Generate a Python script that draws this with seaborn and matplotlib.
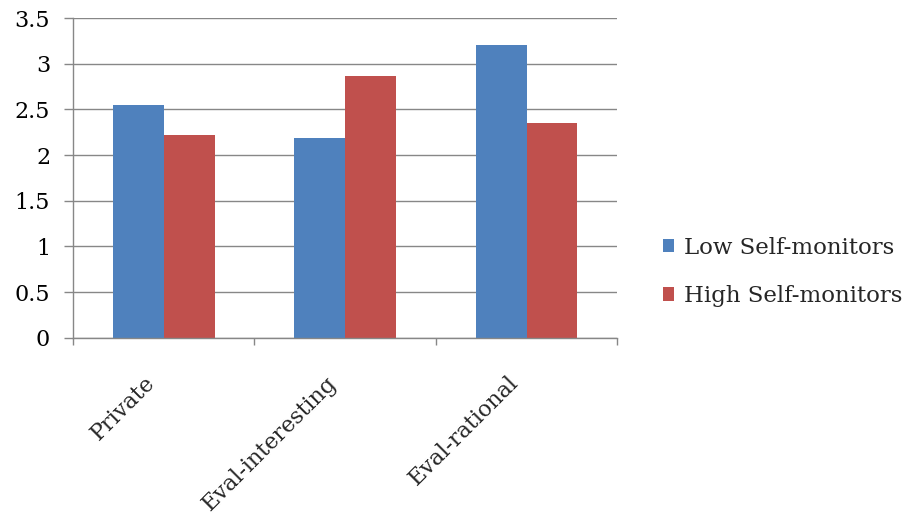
import matplotlib
matplotlib.use("Agg")
import matplotlib.pyplot as plt
import matplotlib.transforms as mtransforms
import seaborn as sns
import pandas as pd

categories = ["Private", "Eval-interesting", "Eval-rational"]
groups = ["Low Self-monitors", "High Self-monitors"]
low_values = [2.55, 2.19, 3.21]
high_values = [2.22, 2.86, 2.35]
y_ticks = [0, 0.5, 1, 1.5, 2, 2.5, 3, 3.5]
y_tick_labels = ["0", "0.5", "1", "1.5", "2", "2.5", "3", "3.5"]

df = pd.DataFrame({
    "category": categories * 2,
    "group": [groups[0]] * 3 + [groups[1]] * 3,
    "value": low_values + high_values,
})

sns.set_theme(style="white")
plt.rcParams["font.family"] = ["DejaVu Serif"]

fig = plt.figure(figsize=(9.21, 5.19), dpi=100)
ax = fig.add_axes([0.0793, 0.349, 0.591, 0.6163])

sns.barplot(data=df, x="category", y="value", hue="group", order=categories,
            hue_order=groups, palette=["#4F81BD", "#C0504D"], width=0.56,
            gap=0, saturation=1, ax=ax, errorbar=None, linewidth=0)

ax.set_ylim(0, 3.5)
ax.set_xlim(-0.5, 2.5)
ax.set_yticks(y_ticks)
ax.set_yticklabels(y_tick_labels, fontsize=16)
ax.yaxis.grid(True, color="#878787", linewidth=1)
ax.set_axisbelow(True)
ax.set_xlabel("")
ax.set_ylabel("")

for side in ["top", "right"]:
    ax.spines[side].set_visible(False)
for side in ["left", "bottom"]:
    ax.spines[side].set_color("#878787")
    ax.spines[side].set_linewidth(1)

ax.tick_params(axis="y", which="major", length=6.5, color="#878787", width=1,
               left=True, pad=10, labelcolor="black")
ax.set_xticks([0, 1, 2])
ax.set_xticklabels(categories, fontsize=16, rotation=45, ha="right",
                   va="center", rotation_mode="anchor")
ax.set_xticks([-0.5, 0.5, 1.5, 2.5], minor=True)
ax.tick_params(axis="x", which="major", length=0, pad=30)
ax.tick_params(axis="x", which="minor", length=5, color="#878787", width=1,
               bottom=True, direction="out")

shift = mtransforms.ScaledTranslation(-12 / 100, 0, fig.dpi_scale_trans)
for lbl in ax.get_xticklabels():
    lbl.set_transform(lbl.get_transform() + shift)

handles, labels = ax.get_legend_handles_labels()
ax.legend(handles, labels, loc="center left", bbox_to_anchor=(1.083, 0.206),
          frameon=False, fontsize=16.5, handlelength=0.5, handleheight=0.5,
          handletextpad=0.45, labelspacing=1.15, borderpad=0, borderaxespad=0)

fig.savefig("out.png", dpi=100)
